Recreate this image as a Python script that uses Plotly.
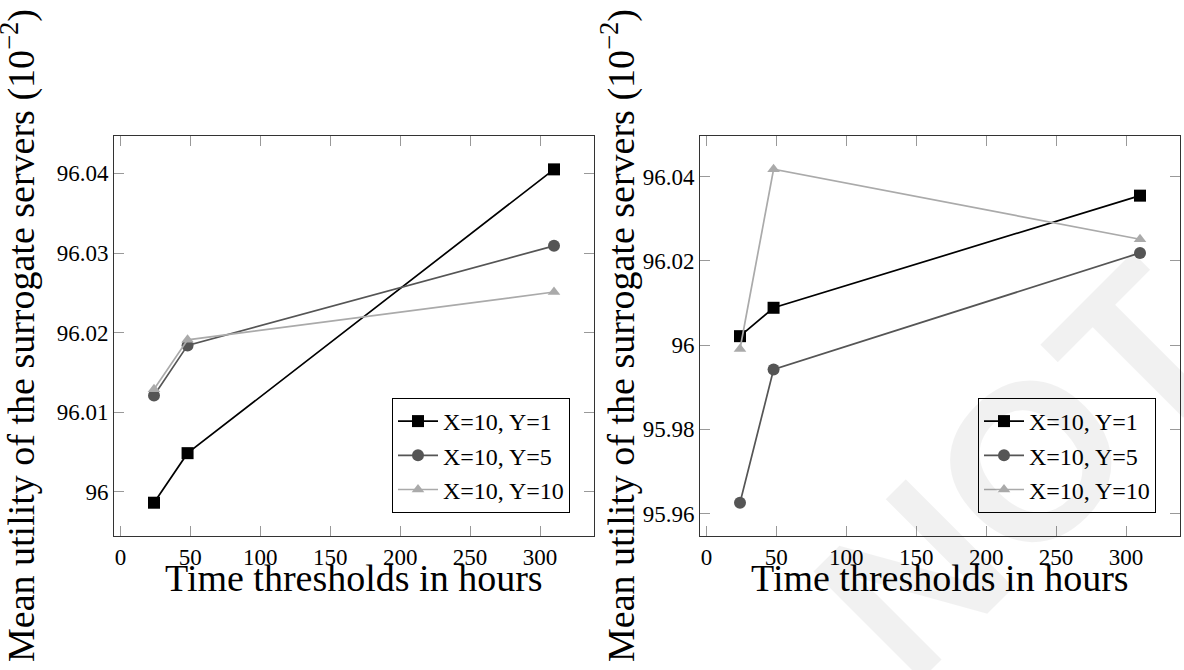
import plotly.graph_objects as go

# Time thresholds (hours) shared by both panels
hours = [24, 48, 310]

# Panel (a): mean utility, values in units of 10^-2
left_y1 = [95.99865, 96.00487, 96.0405]
left_y5 = [96.0121, 96.0184, 96.0309]
left_y10 = [96.0129, 96.0191, 96.0251]

# Panel (b)
right_y1 = [96.00214, 96.00888, 96.0355]
right_y5 = [95.9626, 95.99423, 96.0219]
right_y10 = [95.9991, 96.04176, 96.02515]

series_names = ["X=10, Y=1", "X=10, Y=5", "X=10, Y=10"]

x_ticks = [0, 50, 100, 150, 200, 250, 300]
left_ticks = [96.0, 96.01, 96.02, 96.03, 96.04]
left_ticktext = ["96", "96.01", "96.02", "96.03", "96.04"]
right_ticks = [95.96, 95.98, 96.0, 96.02, 96.04]
right_ticktext = ["95.96", "95.98", "96", "96.02", "96.04"]

W, H = 1184, 670
SERIF = "Liberation Serif"

colors = ["#000000", "#555555", "#aaaaaa"]
symbols = ["square", "circle", "triangle-up"]
msizes = [12, 12, 11]

fig = go.Figure()

panels = [
    ("x", "y", "legend", [left_y1, left_y5, left_y10]),
    ("x2", "y2", "legend2", [right_y1, right_y5, right_y10]),
]
for xa, ya, lg, ys in panels:
    for name, vals, c, s, ms in zip(series_names, ys, colors, symbols, msizes):
        fig.add_trace(go.Scatter(
            x=hours, y=vals, name=name, xaxis=xa, yaxis=ya, legend=lg,
            mode="lines+markers",
            line=dict(color=c, width=1.7),
            marker=dict(symbol=s, size=ms, color=c, line=dict(width=0)),
        ))

def px_x(p):
    return p / W

def px_y(p):
    return 1 - p / H

plot_top, plot_bottom = 136, 536
left_l, left_r = 114, 594
right_l, right_r = 700, 1180

axis_common = dict(
    showline=True, linecolor="#333333", linewidth=1, mirror="ticks",
    ticks="inside", ticklen=10, tickcolor="#999999", tickwidth=1,
    showgrid=False, zeroline=False,
    tickfont=dict(family=SERIF, size=23, color="#000000"),
)

fig.update_layout(
    width=W, height=H,
    margin=dict(l=0, r=0, t=0, b=0),
    paper_bgcolor="white", plot_bgcolor="white",
    xaxis=dict(domain=[px_x(left_l), px_x(left_r)], range=[-4.6, 338.6],
               tickvals=x_ticks, anchor="y", **axis_common),
    yaxis=dict(domain=[px_y(plot_bottom), px_y(plot_top)],
               range=[95.99447, 96.04469], tickvals=left_ticks,
               ticktext=left_ticktext, anchor="x", **axis_common),
    xaxis2=dict(domain=[px_x(right_l), px_x(right_r)], range=[-4.6, 338.6],
                tickvals=x_ticks, anchor="y2", **axis_common),
    yaxis2=dict(domain=[px_y(plot_bottom), px_y(plot_top)],
                range=[95.9547, 96.04966], tickvals=right_ticks,
                ticktext=right_ticktext, anchor="x2", **axis_common),
)

legend_common = dict(
    xref="paper", yref="paper", xanchor="right", yanchor="bottom",
    bgcolor="rgba(255,255,255,0)", bordercolor="#000000", borderwidth=1,
    font=dict(family=SERIF, size=24, color="#000000"),
    itemwidth=40, tracegroupgap=0,
)
fig.update_layout(
    legend=dict(x=px_x(570), y=px_y(513), **legend_common),
    legend2=dict(x=px_x(1156), y=px_y(513), **legend_common),
)

ytitle = "Mean utility of the surrogate servers (10<sup>−2</sup>)"
xtitle = "Time thresholds in hours"
title_font = dict(family=SERIF, size=38, color="#000000")

for cx in (18, 618):
    fig.add_annotation(text=ytitle, xref="paper", yref="paper",
                       x=px_x(cx), y=px_y((plot_top + plot_bottom) / 2),
                       xanchor="center", yanchor="middle", textangle=-90,
                       showarrow=False, font=title_font)
for cx in ((left_l + left_r) / 2, (right_l + right_r) / 2):
    fig.add_annotation(text=xtitle, xref="paper", yref="paper",
                       x=px_x(cx), y=px_y(578),
                       xanchor="center", yanchor="middle",
                       showarrow=False, font=title_font)

# Faint diagonal watermark in the lower right
fig.add_annotation(text="NOT", xref="paper", yref="paper",
                   x=px_x(1022), y=px_y(470), xanchor="center", yanchor="middle",
                   textangle=-45, showarrow=False,
                   font=dict(family="Liberation Sans", size=222, weight="bold",
                             color="rgba(0,0,0,0.055)"))

fig.write_html("out.html")
